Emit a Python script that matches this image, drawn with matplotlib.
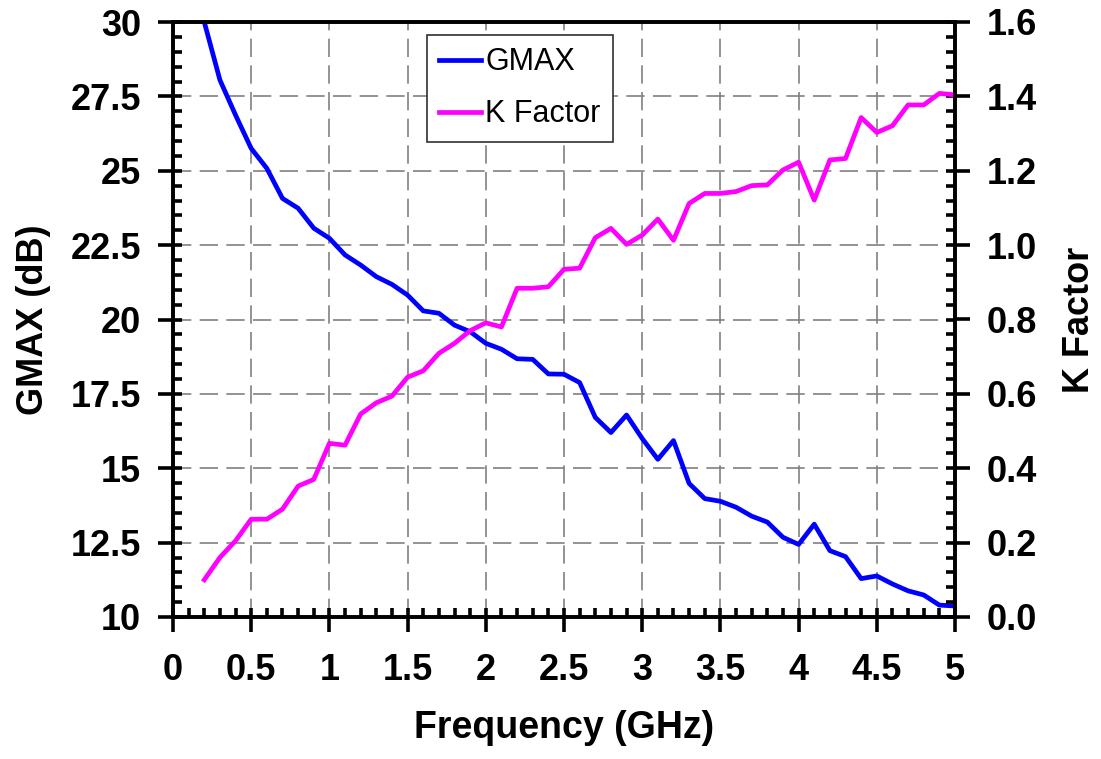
import numpy as np
import matplotlib
matplotlib.use('Agg')
import matplotlib.pyplot as plt
from matplotlib.ticker import MultipleLocator, FormatStrFormatter

plt.rcParams['font.family'] = ['Liberation Sans', 'DejaVu Sans']

# frequency points (GHz)
freq = [0.2, 0.3, 0.4, 0.5, 0.6, 0.7, 0.8, 0.9, 1.0, 1.1, 1.2, 1.3, 1.4, 1.5,
        1.6, 1.7, 1.8, 1.9, 2.0, 2.1, 2.2, 2.3, 2.4, 2.5, 2.6, 2.7, 2.8, 2.9,
        3.0, 3.1, 3.2, 3.3, 3.4, 3.5, 3.6, 3.7, 3.8, 3.9, 4.0, 4.1, 4.2, 4.3,
        4.4, 4.5, 4.6, 4.7, 4.8, 4.9, 5.0]

# GMAX (dB)
gmax = [30.0, 28.05, 26.87, 25.75, 25.08, 24.07, 23.74, 23.07, 22.73, 22.17,
        21.83, 21.44, 21.18, 20.82, 20.29, 20.21, 19.81, 19.59, 19.2, 19.0,
        18.68, 18.66, 18.17, 18.16, 17.88, 16.71, 16.2, 16.79, 16.0, 15.3,
        15.93, 14.49, 13.98, 13.89, 13.69, 13.39, 13.19, 12.68, 12.44, 13.12,
        12.23, 12.03, 11.29, 11.38, 11.11, 10.88, 10.74, 10.40, 10.37]

# K factor
kfac = [0.10, 0.16, 0.205, 0.263, 0.263, 0.29, 0.352, 0.37, 0.467, 0.462,
        0.546, 0.576, 0.594, 0.645, 0.662, 0.709, 0.736, 0.770, 0.791, 0.78,
        0.884, 0.884, 0.888, 0.935, 0.938, 1.02, 1.045, 1.002, 1.027, 1.07,
        1.013, 1.112, 1.139, 1.139, 1.144, 1.16, 1.162, 1.202, 1.223, 1.121,
        1.229, 1.233, 1.343, 1.303, 1.321, 1.377, 1.377, 1.408, 1.404]

fs = 26                      # tick / axis label size
sw = 2.6                     # spine and tick width

fig = plt.figure(figsize=(11.01, 7.59), dpi=100)
ax = fig.add_axes([173/1101, 1 - 617/759, 782/1101, 595/759])
ax2 = ax.twinx()

l1, = ax.plot(freq, gmax, color='#0000ff', lw=3.4, label='GMAX')
l2, = ax2.plot(freq, kfac, color='#ff00ff', lw=3.4, label='K Factor')

ax.set(xlim=(0, 5), ylim=(10, 30))
ax2.set_ylim(0, 1.6)

ax.xaxis.set_major_locator(MultipleLocator(0.5))
ax.xaxis.set_minor_locator(MultipleLocator(0.1))
ax.yaxis.set_major_locator(MultipleLocator(2.5))
ax.yaxis.set_minor_locator(MultipleLocator(0.5))
ax2.yaxis.set_major_locator(MultipleLocator(0.2))
ax2.yaxis.set_minor_locator(MultipleLocator(0.04))
ax2.yaxis.set_major_formatter(FormatStrFormatter('%.1f'))

def fmt(v, pos):
    s = ('%.1f' % v).rstrip('0').rstrip('.')
    return s
ax.xaxis.set_major_formatter(fmt)
ax.yaxis.set_major_formatter(fmt)

for a in (ax.xaxis, ax.yaxis, ax2.yaxis):
    a.remove_overlapping_locs = False

ax.grid(True, which='major', color='#808080', lw=1.2, ls=(0, (11, 5)))
ax.set_axisbelow(True)

for a in (ax, ax2):
    for s in a.spines.values():
        s.set_linewidth(sw)

ax.tick_params(axis='both', which='major', direction='out', length=11,
               width=sw, labelsize=fs, pad=12)
ax.tick_params(axis='x', which='major', pad=15)
ax.tick_params(axis='both', which='minor', direction='in', length=6.5, width=sw)
ax2.tick_params(axis='y', which='major', direction='out', length=11,
                width=sw, labelsize=fs, pad=12)
ax2.tick_params(axis='y', which='minor', direction='in', length=6.5, width=sw)
for t in ax.get_xticklabels() + ax.get_yticklabels() + ax2.get_yticklabels():
    t.set_fontweight('bold')

ax.set_xlabel('Frequency (GHz)', fontsize=27, fontweight='bold', labelpad=16)
ax.set_ylabel('GMAX (dB)', fontsize=fs, fontweight='bold', labelpad=14)
ax2.set_ylabel('K Factor', fontsize=fs, fontweight='bold', labelpad=18)

leg = ax2.legend(handles=[l1, l2], loc='upper left',
                 bbox_to_anchor=(0.325, 0.978), fontsize=22, frameon=True,
                 fancybox=False, framealpha=1, edgecolor='#303030',
                 handlelength=1.35, handletextpad=0.15, borderpad=0.4,
                 labelspacing=0.72, borderaxespad=0)
leg.get_frame().set_linewidth(1.2)

fig.savefig('out.png', dpi=100)
